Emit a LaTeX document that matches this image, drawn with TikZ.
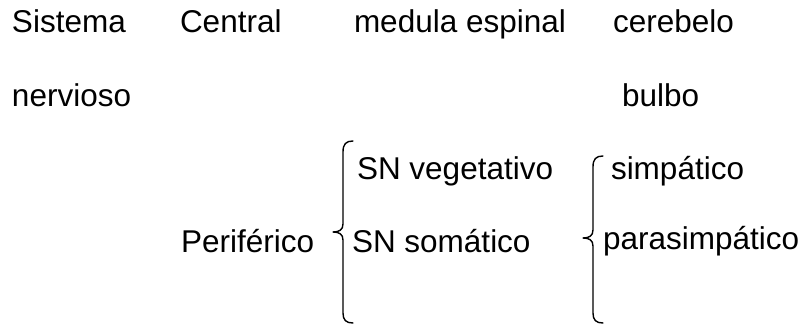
\documentclass[tikz,border=0pt]{standalone}
\usepackage{fontspec}
\setmainfont{Liberation Sans}
\begin{document}
\begin{tikzpicture}[x=1pt,y=-1pt,
  lbl/.style={anchor=base west,inner sep=0pt,outer sep=0pt,font=\fontsize{31.5}{36}\selectfont},
  bracestroke/.style={line width=1.4pt,line cap=round,line join=round}]
\useasboundingbox (0,0) rectangle (804,326);
\fill[white] (0,0) rectangle (804,326);
% row 1
\node[lbl] (sis) at (12,33) {Sistema};
\node[lbl] (cen) at (180,33) {Central};
\node[lbl] (med) at (354,33) {medula espinal};
\node[lbl] (cer) at (613,33) {cerebelo};
% row 2
\node[lbl] (ner) at (12,107) {nervioso};
\node[lbl] (bul) at (622,107) {bulbo};
% row 3
\node[lbl] (veg) at (357,180) {SN vegetativo};
\node[lbl] (sim) at (611,180) {simpático};
% row 4
\node[lbl] (per) at (181,252) {Periférico};
\node[lbl] (som) at (352,252) {SN somático};
\node[lbl] (par) at (603,250) {parasimpático};
% brace 1
\draw[bracestroke] (353,141) .. controls (346,141) and (343,144) .. (343,152)
  -- (343,224) .. controls (343,230) and (339,232) .. (333,232)
  .. controls (339,232) and (343,234) .. (343,240)
  -- (343,313) .. controls (343,320) and (346,323) .. (353,323);
% brace 2
\draw[bracestroke] (603,156) .. controls (596,156) and (593,159) .. (593,167)
  -- (593,230) .. controls (593,236) and (589,238) .. (583,238)
  .. controls (589,238) and (593,240) .. (593,246)
  -- (593,313) .. controls (593,320) and (596,323) .. (603,323);
\end{tikzpicture}
\end{document}
